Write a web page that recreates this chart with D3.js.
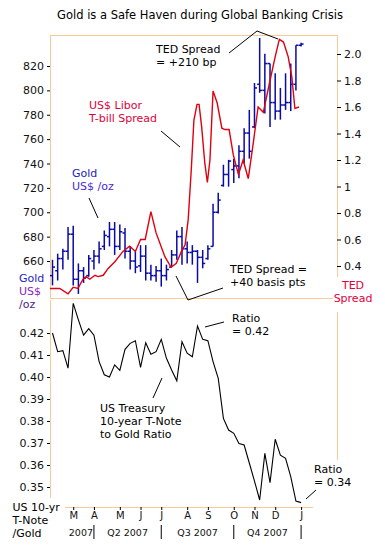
<!DOCTYPE html>
<html>
<head>
<meta charset="utf-8">
<script src="https://cdn.jsdelivr.net/npm/d3@7"></script>
<style>
  body { margin: 0; background: #fff; }
  svg text { font-family: "DejaVu Sans", Verdana, sans-serif; }
</style>
</head>
<body>
<svg id="chart" width="385" height="548"></svg>
<script>
// Weekly gold bars (US$/oz), week index 0..48
const goldHigh  = [661,666,670,688,689,658,655,665,669,676,685,692,692,690,687,672,669,673,673,657,656,662,657,669,685,688,676,673,669,669,673,707,716,739,743,744,755,769,784,806,843,830,822,814,802,814,822,837,839];
const goldLow   = [640,644,653,661,640,633,642,647,653,658,669,672,665,669,662,653,650,651,644,644,643,639,644,655,661,657,658,657,642,654,661,672,699,721,721,724,728,740,744,769,798,781,770,776,776,784,783,800,836];
const goldOpen  = [648,652,662,668,682,645,652,648,660,664,672,680,686,672,683,668,660,656,664,650,648,652,648,655,665,680,670,667,668,663,662,672,700,722,731,735,738,750,765,770,805,800,822,790,783,788,790,805,837];
const goldClose = [655,662,668,682,645,652,646,662,664,670,681,686,672,684,668,660,655,664,650,648,652,648,653,665,680,670,667,668,663,658,670,700,710,731,742,738,750,765,750,802,800,822,790,783,788,790,805,837,838];

// TED spread (%), at week positions
const tedWeek  = [-0.5,1.4,3.0,4.0,4.9,5.9,6.5,7.2,8.2,8.8,9.8,10.7,12.0,13.6,14.9,16.0,17.0,17.9,19.0,20.0,21.7,22.9,23.9,24.9,25.6,26.2,26.8,27.3,27.9,28.3,28.8,29.4,29.9,30.4,31.0,31.8,32.7,33.3,34.1,34.9,35.9,36.8,37.8,38.7,39.7,40.7,42.0,43.0,43.8,44.6,45.5,46.2,46.8,47.6];
const tedValue = [0.23,0.23,0.19,0.24,0.23,0.30,0.32,0.30,0.33,0.32,0.33,0.38,0.43,0.51,0.55,0.51,0.60,0.60,0.81,0.65,0.47,0.39,0.42,0.51,0.56,0.75,1.13,1.50,1.62,1.62,1.45,1.18,1.03,1.20,1.72,1.63,1.44,1.43,1.43,1.24,1.09,1.20,1.06,1.31,1.60,1.56,1.80,1.98,2.11,2.09,1.98,1.83,1.59,1.60];

// US 10-yr T-Note / gold ratio, weekly
const ratio = [0.420,0.4115,0.412,0.404,0.4335,0.426,0.419,0.422,0.419,0.407,0.401,0.400,0.4055,0.403,0.4126,0.4153,0.4165,0.4044,0.4156,0.4103,0.4115,0.4171,0.4085,0.4032,0.3983,0.416,0.4108,0.4092,0.4232,0.4171,0.4165,0.407,0.3994,0.3812,0.3759,0.3744,0.3698,0.3691,0.3609,0.3527,0.3441,0.3653,0.352,0.3717,0.3645,0.363,0.3547,0.3436,0.3429];

// Axis labels
const monthLabels = ["M","A","M","J","J","A","S","O","N","D","J"];
const monthWeeks = [4,8,13,17,21,26,30,35,39,43,48];
const quarterLabels = ["2007","Q2 2007","Q3 2007","Q4 2007"];
const quarterBreaks = [8,21,35,48];
const goldTicks = [660,680,700,720,740,760,780,800,820];
const tedTicks = [0.4,0.6,0.8,1.0,1.2,1.4,1.6,1.8,2.0];
const tedTickText = ["0.4","0.6","0.8","1","1.2","1.4","1.6","1.8","2.0"];
const ratioTicks = [0.35,0.36,0.37,0.38,0.39,0.40,0.41,0.42];

const svg = d3.select("#chart");
const frame = "#f9c996";
const blue = "#0a0aa6";
const red = "#e00010";

// Scales
const x = d3.scaleLinear().domain([0, 48]).range([52.5, 301.1]);
const yGold = d3.scaleLinear().domain([660, 820]).range([261, 66]);
const yTed = d3.scaleLinear().domain([0.4, 2.0]).range([266, 54]);
const yRatio = d3.scaleLinear().domain([0.35, 0.42]).range([487, 333]);

// Title
svg.append("text")
    .attr("x", 200).attr("y", 19)
    .attr("text-anchor", "middle")
    .attr("font-size", 11.5)
    .attr("fill", "#000")
    .text("Gold is a Safe Haven during Global Banking Crisis");

// Top panel frame
const fl = (x1, y1, x2, y2) => svg.append("line")
    .attr("x1", x1).attr("y1", y1).attr("x2", x2).attr("y2", y2)
    .attr("stroke", frame).attr("stroke-width", 1);
fl(50, 35.5, 337, 35.5);
fl(50.5, 35, 50.5, 298);
fl(50, 298.5, 333, 298.5);
fl(337.5, 35, 337.5, 277);
// Bottom panel frame
fl(50.5, 300, 50.5, 498);
fl(337.5, 312, 337.5, 460);
fl(65, 507.5, 313, 507.5);

// Axes
function styleAxis(g, size) {
    g.select(".domain").remove();
    g.selectAll("text")
        .attr("font-family", "DejaVu Sans, Verdana, sans-serif")
        .attr("font-size", size).attr("fill", "#111");
    g.selectAll("line").attr("stroke", "#000");
}

svg.append("g")
    .attr("transform", "translate(50,0)")
    .call(d3.axisLeft(yGold).tickValues(goldTicks).tickSize(3).tickPadding(3))
    .call(g => styleAxis(g, 11));

svg.append("g")
    .attr("transform", "translate(337,0)")
    .call(d3.axisRight(yTed).tickValues(tedTicks).tickSize(4).tickPadding(3)
        .tickFormat((d, i) => tedTickText[i]))
    .call(g => styleAxis(g, 11));

svg.append("g")
    .attr("transform", "translate(50,0)")
    .call(d3.axisLeft(yRatio).tickValues(ratioTicks).tickSize(3).tickPadding(3)
        .tickFormat(d3.format(".2f")))
    .call(g => styleAxis(g, 11));

svg.append("g")
    .attr("transform", "translate(0,507)")
    .call(d3.axisBottom(x).tickValues(monthWeeks).tickSize(3).tickPadding(2)
        .tickFormat((d, i) => monthLabels[i]))
    .call(g => styleAxis(g, 10));

// Quarter labels and separators
quarterBreaks.forEach((w, i) => {
    svg.append("line")
        .attr("x1", x(w)).attr("x2", x(w))
        .attr("y1", 525).attr("y2", 539)
        .attr("stroke", "#000");
    const xm = i === 0 ? x(w) - 13 : (x(quarterBreaks[i - 1]) + x(w)) / 2;
    svg.append("text")
        .attr("x", xm).attr("y", 536)
        .attr("text-anchor", "middle")
        .attr("font-size", 9.5).attr("fill", "#111")
        .text(quarterLabels[i]);
});

// Gold OHLC bars
const bars = svg.append("g").attr("stroke", blue).attr("stroke-width", 1.5);
goldHigh.forEach((h, i) => {
    bars.append("line")
        .attr("x1", x(i)).attr("x2", x(i))
        .attr("y1", yGold(h)).attr("y2", yGold(goldLow[i]));
    bars.append("line")
        .attr("x1", x(i) - 2.5).attr("x2", x(i))
        .attr("y1", yGold(goldOpen[i])).attr("y2", yGold(goldOpen[i]));
    bars.append("line")
        .attr("x1", x(i)).attr("x2", x(i) + 2.5)
        .attr("y1", yGold(goldClose[i])).attr("y2", yGold(goldClose[i]));
});

// TED spread line
svg.append("path")
    .datum(tedWeek.map((w, i) => [w, tedValue[i]]))
    .attr("fill", "none")
    .attr("stroke", red)
    .attr("stroke-width", 1.4)
    .attr("d", d3.line().x(d => x(d[0])).y(d => yTed(d[1])));

// Ratio line
svg.append("path")
    .datum(ratio)
    .attr("fill", "none")
    .attr("stroke", "#000")
    .attr("stroke-width", 1.1)
    .attr("d", d3.line().x((d, i) => x(i)).y(d => yRatio(d)));

// Notes
function note(lines, tx, ty, color, size) {
    lines.forEach((s, i) => {
        svg.append("text")
            .attr("x", tx).attr("y", ty + i * 13)
            .attr("font-size", size || 11)
            .attr("fill", Array.isArray(color) ? color[i] : color)
            .text(s);
    });
}
function pointer(pts) {
    svg.append("path")
        .attr("d", d3.line()(pts))
        .attr("fill", "none").attr("stroke", "#000").attr("stroke-width", 1);
}

note(["TED Spread", "= +210 bp"], 156, 53, "#000");
pointer([[229, 53], [257, 31], [278, 39]]);

note(["US$ Libor", "T-bill Spread"], 89, 109, "#e2003c");
pointer([[161, 131], [180, 147]]);

note(["Gold", "US$ /oz"], 72, 177, ["#2222c0", "#4a2ad0"]);
pointer([[89, 198], [98, 218]]);

note(["TED Spread =", "+40 basis pts"], 230, 273, "#000");
pointer([[176, 276], [188, 300], [223, 288]]);

note(["Gold", "US$", "/oz"], 19, 282, ["#2626c4", "#8a1cc8", "#4a1c8a"]);

svg.append("text").attr("x", 353).attr("y", 289).attr("text-anchor", "middle")
    .attr("font-size", 11).attr("fill", "#e2003c").text("TED");
svg.append("text").attr("x", 353).attr("y", 302).attr("text-anchor", "middle")
    .attr("font-size", 11).attr("fill", "#e2003c").text("Spread");

note(["Ratio", "= 0.42"], 232, 322, "#000");
pointer([[205, 327], [224, 322]]);

note(["US Treasury", "10-year T-Note", "to Gold Ratio"], 100, 412, "#000");
pointer([[153, 398], [162, 378]]);

note(["Ratio", "= 0.34"], 314, 473, "#000");
pointer([[306, 499], [316, 490]]);

note(["US 10-yr", "T-Note", "/Gold"], 12.5, 510.5, "#000");
</script>
</body>
</html>
